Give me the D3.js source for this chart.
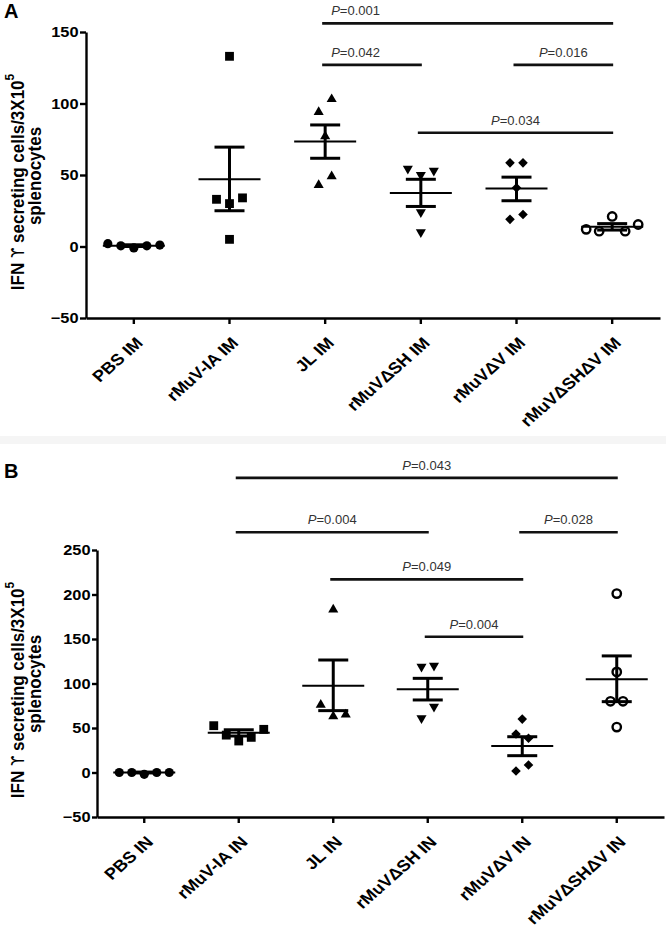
<!DOCTYPE html>
<html><head><meta charset="utf-8">
<script src="https://cdnjs.cloudflare.com/ajax/libs/d3/7.8.5/d3.min.js"></script>
<style>
body{margin:0;background:#fff;}
svg{display:block;}
text{font-family:"Liberation Sans",Arial,Helvetica,sans-serif;}
</style></head>
<body><svg id="c" width="666" height="929"></svg>
<script>
// ---------------- DATA ----------------
const catsA = ["PBS IM","rMuV-IA IM","JL IM","rMuVΔSH IM","rMuVΔV IM","rMuVΔSHΔV IM"];
const catsB = ["PBS IN","rMuV-IA IN","JL IN","rMuVΔSH IN","rMuVΔV IN","rMuVΔSHΔV IN"];
const ticksA = [-50,0,50,100,150];
const ticksB = [-50,0,50,100,150,200,250];

// individual mice (listed left-to-right within equal-height rows)
const pointsA = [
  [2, 0.5, -1, 0.5, 1],
  [133, 33, 30, 34, 5],
  [94, 103, 77, 43, 49],
  [54.5, 50, 53, 24, 10],
  [58.5, 58.5, 41, 19, 22.4],
  [12, 10.7, 21, 10.7, 15.4]
];
const meanA  = [0.6, 47, 73.5, 37.5, 40.5, 13.8];
const semHiA = [1.2, 69.5, 85, 47, 48.5, 16];
const semLoA = [0, 25, 61.7, 28, 32, 11.5];

const pointsB = [
  [0, 0, -2, 0, 0],
  [52.6, 42, 35.4, 39.5, 48.5],
  [183, 76, 63, 65],
  [119, 120, 61, 74],
  [60, 43.3, 38.4, 1.7, 8.4],
  [201, 113, 80, 80, 51]
];
const meanB  = [0, 44.7, 97.5, 93.5, 29.8, 104.7];
const semHiB = [0.5, 48, 126.4, 105.8, 40.2, 131];
const semLoB = [-0.5, 41, 69.5, 81.5, 18.9, 79.6];

// significance brackets: [from, to, level (y units), p, text anchor]
const sigA = [
  ["JL IM","rMuVΔSHΔV IM",156,"0.001","start"],
  ["JL IM","rMuVΔSH IM",127,"0.042","start"],
  ["rMuVΔV IM","rMuVΔSHΔV IM",127,"0.016","middle"],
  ["rMuVΔSH IM","rMuVΔSHΔV IM",79.5,"0.034","middle"]
];
const sigB = [
  ["rMuV-IA IN","rMuVΔSHΔV IN",331,"0.043","middle"],
  ["rMuV-IA IN","rMuVΔSH IN",270,"0.004","middle"],
  ["rMuVΔV IN","rMuVΔSHΔV IN",270,"0.028","middle"],
  ["JL IN","rMuVΔV IN",217,"0.049","middle"],
  ["rMuVΔSH IN","rMuVΔV IN",152.6,"0.004","middle"]
];

// ---------------- DRAW ----------------
const SX = 1.13; // horizontal stretch of the original figure's lettering
const svg = d3.select("#c");
svg.append("rect").attr("x",0).attr("y",0).attr("width",666).attr("height",929).attr("fill","#fff");
svg.append("rect").attr("x",0).attr("y",436).attr("width",666).attr("height",8).attr("fill","#f5f5f5");

const shapes = ["circle","square","tri","triDown","diamond","open"];

function marker(g, kind, x, y){
  if(kind==="circle"){
    g.append("circle").attr("cx",x).attr("cy",y).attr("r",4.6).attr("fill","#000");
  } else if(kind==="open"){
    g.append("circle").attr("cx",x).attr("cy",y).attr("r",4.2).attr("fill","none").attr("stroke","#000").attr("stroke-width",2.4);
  } else if(kind==="square"){
    g.append("path").attr("d",d3.symbol(d3.symbolSquare,78)()).attr("transform",`translate(${x},${y})`).attr("fill","#000");
  } else if(kind==="tri"){
    g.append("path").attr("d",d3.symbol(d3.symbolTriangle,44)()).attr("transform",`translate(${x},${y})`).attr("fill","#000");
  } else if(kind==="triDown"){
    g.append("path").attr("d",d3.symbol(d3.symbolTriangle,44)()).attr("transform",`translate(${x},${y}) rotate(180)`).attr("fill","#000");
  } else if(kind==="diamond"){
    g.append("path").attr("d",d3.symbol(d3.symbolSquare,46)()).attr("transform",`translate(${x},${y}) rotate(45)`).attr("fill","#000");
  }
}

// spread points that sit at (almost) the same height, like a scatter dot plot
function offsets(vals, y, slot){
  const idx = vals.map((v,i)=>i).sort((a,b)=>y(vals[a])-y(vals[b]));
  const clusters = [];
  let cur = [];
  idx.forEach((i,k)=>{
    if(k>0 && Math.abs(y(vals[i])-y(vals[idx[k-1]]))>=13.5){ clusters.push(cur); cur=[]; }
    cur.push(i);
  });
  if(cur.length) clusters.push(cur);
  const off = new Array(vals.length).fill(0);
  clusters.forEach(c=>{
    c.sort((a,b)=>a-b);
    c.forEach((i,j)=>{ off[i] = (j-(c.length-1)/2)*slot; });
  });
  return off;
}

function panel(opt){
  const {cats, ticks, pts, mean, hi, lo, sig, x0, x1, yTop, yBot, dom, letter, letterY, tickLen, slot, titleY} = opt;
  const g = svg.append("g");
  const x = d3.scaleBand().domain(cats).range([x0,x1]);
  const y = d3.scaleLinear().domain(dom).range([yBot,yTop]);
  const cx = c => x(c)+x.bandwidth()/2;

  // axes
  const ya = g.append("g").attr("transform",`translate(${x0},0)`)
    .call(d3.axisLeft(y).tickValues(ticks).tickSize(tickLen).tickSizeOuter(0).tickPadding(2));
  ya.selectAll("path,line").attr("stroke","#000").attr("stroke-width",2.4);
  ya.selectAll("text").attr("font-size",14.5).attr("font-weight","bold").attr("fill","#000")
    .attr("x",0).attr("transform",`translate(${-(tickLen+1.5)},0) scale(${SX},1)`);

  const xa = g.append("g").attr("transform",`translate(0,${yBot})`)
    .call(d3.axisBottom(x).tickSize(6).tickSizeOuter(0));
  xa.selectAll("path,line").attr("stroke","#000").attr("stroke-width",2.4);
  xa.selectAll("text").attr("font-size",16).attr("font-weight","bold").attr("fill","#000")
    .attr("text-anchor","end").attr("y",0).attr("dy",0).attr("x",0)
    .attr("transform",`translate(10,26) scale(${SX},1) rotate(-45)`);

  // points
  cats.forEach((c,i)=>{
    const off = offsets(pts[i], y, slot);
    pts[i].forEach((v,k)=> marker(g, shapes[i], cx(c)+off[k], y(v)));
  });

  // mean and SEM
  cats.forEach((c,i)=>{
    const X = cx(c);
    g.append("line").attr("x1",X-31).attr("x2",X+31).attr("y1",y(mean[i])).attr("y2",y(mean[i]))
      .attr("stroke","#000").attr("stroke-width",2);
    g.append("line").attr("x1",X).attr("x2",X).attr("y1",y(hi[i])).attr("y2",y(lo[i]))
      .attr("stroke","#000").attr("stroke-width",3);
    [hi[i],lo[i]].forEach(v=>{
      g.append("line").attr("x1",X-15).attr("x2",X+15).attr("y1",y(v)).attr("y2",y(v))
        .attr("stroke","#000").attr("stroke-width",3);
    });
  });

  // significance bars
  sig.forEach(s=>{
    const xa1 = cx(s[0])-3, xa2 = cx(s[1])+1, yy = y(s[2]);
    g.append("line").attr("x1",xa1).attr("x2",xa2).attr("y1",yy).attr("y2",yy)
      .attr("stroke","#111").attr("stroke-width",2.6);
    const t = g.append("text").attr("font-size",13).attr("fill","#333")
      .attr("y",yy-8).attr("text-anchor",s[4])
      .attr("x", s[4]==="start" ? xa1+9 : (xa1+xa2)/2);
    t.append("tspan").attr("font-style","italic").text("P");
    t.append("tspan").text("="+s[3]);
  });

  // panel letter
  g.append("text").attr("x",4).attr("y",letterY).attr("font-size",20).attr("font-weight","bold").text(letter);

  // y title
  const t1 = g.append("text").attr("transform",`translate(24,${titleY+7}) scale(${SX},1) rotate(-90)`)
    .attr("text-anchor","middle").attr("font-size",17).attr("font-weight","bold");
  t1.append("tspan").text("IFN ");
  t1.append("tspan").attr("font-family","'DejaVu Sans',sans-serif").attr("font-weight","normal").attr("font-size",15).text("ϒ");
  t1.append("tspan").text(" secreting cells/3X10");
  t1.append("tspan").attr("font-size",12).attr("dy","-0.75em").text("5");
  g.append("text").attr("transform",`translate(40.5,${titleY+1}) scale(${SX},1) rotate(-90)`)
    .attr("text-anchor","middle").attr("font-size",17).attr("font-weight","bold").text("splenocytes");
}

panel({cats:catsA, ticks:ticksA, pts:pointsA, mean:meanA, hi:semHiA, lo:semLoA, sig:sigA,
  x0:86, x1:660, yTop:32, yBot:318, dom:[-50,150], letter:"A", letterY:18, tickLen:6, slot:13, titleY:175});
panel({cats:catsB, ticks:ticksB, pts:pointsB, mean:meanB, hi:semHiB, lo:semLoB, sig:sigB,
  x0:97, x1:664, yTop:550, yBot:817, dom:[-50,250], letter:"B", letterY:478, tickLen:5, slot:12.5, titleY:683});
</script>
</body></html>
